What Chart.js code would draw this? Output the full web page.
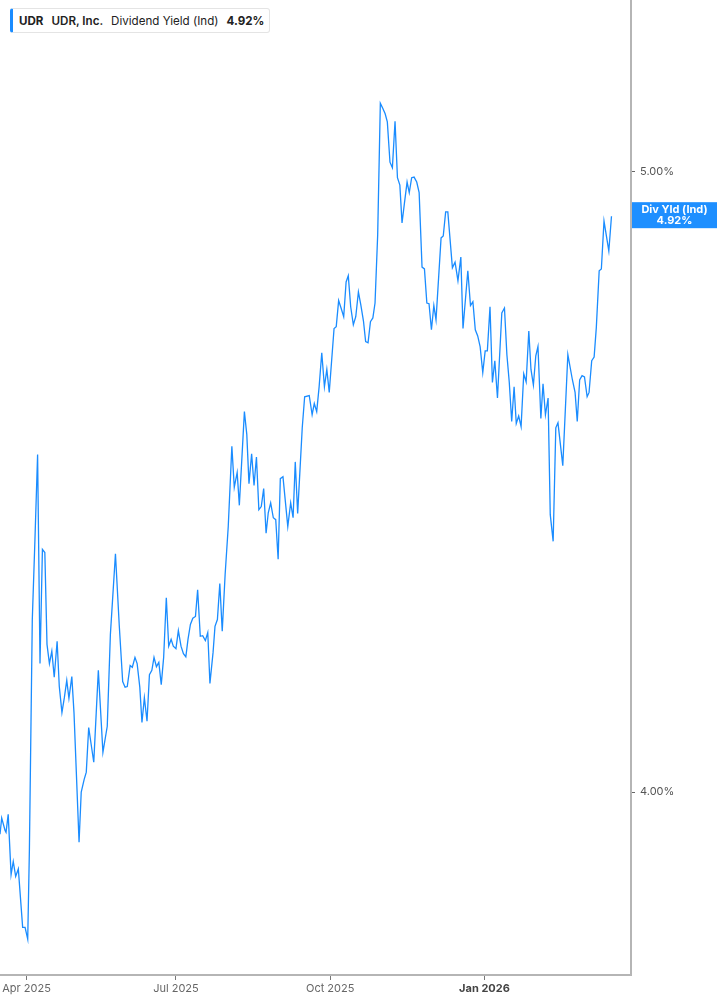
<!DOCTYPE html>
<html>
<head>
<meta charset="utf-8">
<script src="https://cdn.jsdelivr.net/npm/chart.js@4.4.1/dist/chart.umd.min.js"></script>
<style>
  html, body { margin: 0; padding: 0; background: #ffffff; }
  #wrap { position: relative; width: 717px; height: 1005px; }
  #legend {
    position: absolute; left: 10px; top: 8px; height: 25px;
    box-sizing: border-box; display: flex; align-items: center;
    background: #fff; border: 1px solid #e4e4e4; border-left: 3px solid #1a8cff;
    border-radius: 3px; padding: 0 5px 0 6px;
    font-family: Inter, "Noto Sans", sans-serif; font-size: 11.6px; color: #222; white-space: nowrap;
  }
  #legend span { margin-right: 8px; }
  #legend span:last-child { margin-right: 0; }
  .b { font-weight: 700; }
  .sb { font-weight: 600; }
</style>
</head>
<body>
<div id="wrap">
  <canvas id="c" width="717" height="1005"></canvas>
  <div id="legend"><span class="b">UDR</span><span class="sb">UDR, Inc.</span><span>Dividend Yield (Ind)</span><span class="b">4.92%</span></div>
</div>
<script>
// Trading-day index (0 = Apr 1 2025)
const tradingDay = [
 -11.0,-10.3,-8.9,-8.5,-7.6,-6.4,-5.5,-4.5,-3.4,-1.6,-0.6,0.5,1.2,2.4,3.5,4.6,5.6,6.6,7.6,8.5,9.5,10.5,11.5,12.7,13.6,14.7,15.7,16.7,17.6,18.8,19.7,21.8,22.7,23.9,24.8,25.8,27.9,29.8,31.7,33.5,34.8,36.9,38.5,39.9,40.9,41.8,43.0,
 43.9,45.0,45.9,47.0,47.9,48.9,50.0,51.0,52.0,52.9,53.9,54.9,55.9,56.9,58.0,59.0,60.0,60.9,62.0,63.0,64.1,65.1,66.1,67.0,68.0,69.0,70.1,71.0,72.1,73.1,74.2,75.2,76.1,77.4,78.2,79.2,80.2,81.2,82.4,
 83.7,85.2,86.2,87.4,88.3,90.4,91.4,92.3,93.4,94.4,95.4,96.4,97.4,98.4,99.4,100.3,101.3,102.4,103.4,104.4,105.3,106.4,108.4,109.6,110.6,111.5,112.5,114.4,115.4,117.3,118.5,119.4,120.4,121.4,122.5,123.6,124.6,125.6,127.6,128.5,129.5,130.5,131.6,132.6,133.5,134.5,135.6,136.6,137.7,138.7,139.8,140.7,141.7,142.7,143.7,144.6,
 145.7,146.8,147.8,148.8,149.7,150.8,151.8,152.9,153.9,154.9,155.8,156.8,157.9,158.8,159.8,160.8,161.9,162.9,164.1,165.1,166.1,167.0,168.0,169.0,169.9,172.0,172.9,173.9,174.8,176.7,177.8,179.0,180.2,181.1,183.1,184.2,185.2,186.2,187.2,188.2,189.3,190.3,191.2,
 192.3,193.3,194.3,195.4,197.2,198.3,199.3,200.3,201.3,202.3,203.2,204.2,205.2,206.3,207.3,208.4,209.3,210.3,211.3,212.2,213.4,214.3,215.3,216.4,217.3,218.5,219.6,220.5,222.5,224.6,226.5,227.6,228.5,229.5,230.5,231.5,232.6,233.4,234.5,235.5,236.4,237.6,238.5,239.6,241.6,242.7
];
// Dividend yield (%)
const yieldPct = [
 3.932,3.958,3.938,3.935,3.964,3.867,3.888,3.864,3.876,3.782,3.782,3.763,3.908,4.278,4.407,4.544,4.207,4.391,4.386,4.238,4.207,4.227,4.185,4.243,4.170,4.128,4.152,4.180,4.151,4.186,4.128,3.919,4.000,4.020,4.032,4.104,4.048,4.196,4.064,4.106,4.254,4.384,4.267,4.178,4.169,4.170,4.204,
 4.201,4.217,4.207,4.169,4.112,4.152,4.114,4.189,4.196,4.217,4.202,4.209,4.173,4.217,4.313,4.235,4.246,4.235,4.231,4.260,4.235,4.223,4.218,4.246,4.270,4.280,4.283,4.326,4.251,4.252,4.244,4.257,4.175,4.225,4.267,4.278,4.336,4.259,4.350,
 4.428,4.557,4.491,4.515,4.462,4.613,4.576,4.497,4.545,4.494,4.540,4.455,4.460,4.489,4.417,4.450,4.466,4.442,4.439,4.375,4.505,4.508,4.428,4.466,4.442,4.532,4.449,4.587,4.637,4.639,4.608,4.626,4.613,4.653,4.708,4.653,4.681,4.644,4.747,4.750,4.792,4.780,4.766,4.822,4.832,4.782,4.753,4.766,4.806,4.785,4.759,4.726,4.724,4.758,4.764,4.788,
 4.898,5.110,5.102,5.093,5.080,5.015,5.006,5.081,4.990,4.978,4.917,4.949,4.983,4.966,4.990,4.991,4.983,4.966,4.846,4.843,4.788,4.787,4.745,4.784,4.761,4.893,4.896,4.935,4.935,4.845,4.854,4.824,4.862,4.747,4.840,4.784,4.790,4.745,4.735,4.718,4.676,4.711,4.711,
 4.782,4.660,4.695,4.635,4.772,4.780,4.705,4.660,4.597,4.653,4.594,4.606,4.589,4.674,4.661,4.743,4.681,4.656,4.703,4.718,4.602,4.658,4.608,4.635,4.447,4.404,4.587,4.595,4.526,4.705,4.664,4.644,4.597,4.664,4.671,4.669,4.637,4.644,4.695,4.701,4.748,4.840,4.843,4.920,4.872,4.928
];
const xTickValues = [0, 62, 126, 190];
const xTickLabels = ['Apr 2025', 'Jul 2025', 'Oct 2025', 'Jan 2026'];
const yTickValues = [4.0, 5.0];
const currentYieldLabel = '4.92%';
const seriesTitle = 'Div Yld (Ind)';

const lineColor = '#1a8cff';
const points = tradingDay.map((d, i) => ({ x: d, y: yieldPct[i] }));

const lastValueBox = {
  id: 'lastValueBox',
  afterDraw(chart) {
    const { ctx, chartArea, scales } = chart;
    const y = scales.y.getPixelForValue(yieldPct[yieldPct.length - 1]) - 1;
    const x0 = chartArea.right + 1;
    const w = chart.width - x0;
    ctx.save();
    ctx.fillStyle = '#1e8fff';
    ctx.fillRect(x0, y - 13, w, 26);
    ctx.fillStyle = '#ffffff';
    ctx.font = 'bold 11px Inter, "Noto Sans", sans-serif';
    ctx.textAlign = 'center';
    ctx.textBaseline = 'middle';
    ctx.fillText(seriesTitle, x0 + w / 2, y - 5.5);
    ctx.fillText(currentYieldLabel, x0 + w / 2, y + 6);
    ctx.restore();
  }
};

function zeroPad(s) { s.paddingTop = 0; s.paddingBottom = 0; s.paddingLeft = 0; s.paddingRight = 0; }

new Chart(document.getElementById('c'), {
  type: 'line',
  data: {
    datasets: [{
      data: points,
      borderColor: lineColor,
      borderWidth: 1.3,
      pointRadius: 0,
      tension: 0,
      fill: false
    }]
  },
  options: {
    responsive: false,
    animation: false,
    layout: { padding: 0 },
    plugins: { legend: { display: false }, tooltip: { enabled: false } },
    scales: {
      x: {
        type: 'linear',
        min: -11,
        max: 250.8,
        afterBuildTicks: (s) => { s.ticks = xTickValues.map(v => ({ value: v })); },
        afterFit: (s) => { s.height = 30; zeroPad(s); },
        ticks: {
          autoSkip: false,
          maxRotation: 0,
          padding: 2,
          callback: (v) => { const k = xTickValues.indexOf(v); return k >= 0 ? xTickLabels[k] : ''; },
          font: (ctx) => ({ family: 'Inter, "Noto Sans", sans-serif', size: 11, weight: ctx.tick && ctx.tick.value === 190 ? 'bold' : 'normal' }),
          color: (ctx) => (ctx.tick && ctx.tick.value === 190 ? '#444' : '#666')
        },
        grid: { drawOnChartArea: false, drawTicks: true, tickLength: 5, tickColor: '#777', color: '#777' },
        border: { display: true, color: '#b5b5b5', width: 2 }
      },
      y: {
        position: 'right',
        min: 3.7051,
        max: 5.2764,
        afterBuildTicks: (s) => { s.ticks = yTickValues.map(v => ({ value: v })); },
        afterFit: (s) => { s.width = 86; zeroPad(s); },
        ticks: {
          padding: 5,
          callback: (v) => v.toFixed(2) + '%',
          font: { family: 'Inter, "Noto Sans", sans-serif', size: 11 },
          color: '#555'
        },
        grid: { drawOnChartArea: false, drawTicks: true, tickLength: 4, tickColor: '#666', color: '#666' },
        border: { display: true, color: '#b5b5b5', width: 2 }
      }
    }
  },
  plugins: [lastValueBox]
});
</script>
</body>
</html>
